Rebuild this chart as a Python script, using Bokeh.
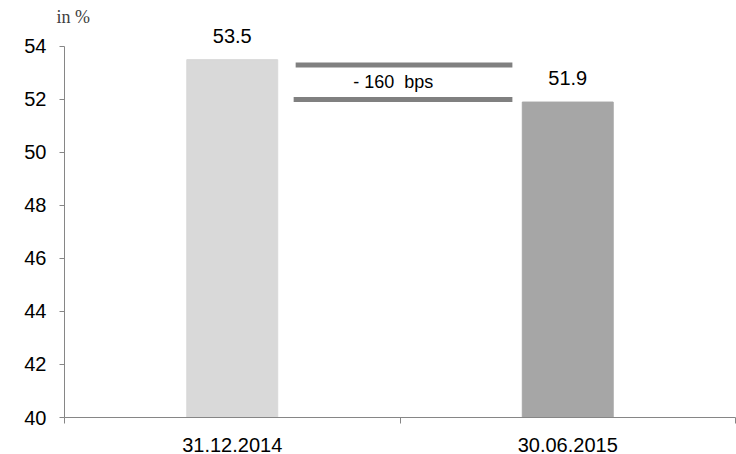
from bokeh.plotting import figure
from bokeh.models import Range1d, FixedTicker, ColumnDataSource
from bokeh.core.properties import value
from bokeh.embed import file_html
from bokeh.resources import INLINE

# ---- data ----
categories = ["31.12.2014", "30.06.2015"]
ratios = [53.5, 51.9]
bar_colors = ["#d9d9d9", "#a6a6a6"]
y_ticks = [40, 42, 44, 46, 48, 50, 52, 54]
bracket_levels = [53.3, 52.0]
change_text = "- 160\u00a0 bps"
unit_text = "in %"

x_pos = [i + 0.5 for i in range(len(categories))]
src = ColumnDataSource(dict(
    x=x_pos, top=ratios, color=bar_colors,
    label=[f"{v:.1f}" for v in ratios],
))

p = figure(width=736, height=454, output_backend="svg", toolbar_location=None,
           x_range=Range1d(0, len(categories)), y_range=Range1d(40, 54.75),
           min_border_left=64, min_border_right=1, min_border_top=26,
           min_border_bottom=35, title=unit_text)
p.outline_line_color = None
p.xgrid.visible = False
p.ygrid.visible = False
p.background_fill_color = "white"
p.border_fill_color = "white"

p.title.align = "left"
p.title.offset = -8
p.title.standoff = 0
p.title.text_font = "Liberation Serif"
p.title.text_font_size = "18px"
p.title.text_font_style = "normal"
p.title.text_color = "#404040"

FONT = "Liberation Sans"
AXIS_COLOR = "#868686"

p.vbar(x="x", top="top", bottom=40, width=0.271, color="color", source=src)
p.text(x="x", y="top", text="label", source=src, text_align="center",
       text_baseline="alphabetic", y_offset=-24, text_font=value(FONT),
       text_font_size="20px", text_color="#000000")

# bracket showing the change
p.segment(x0=[0.689, 0.683], x1=[1.335, 1.335], y0=bracket_levels,
          y1=bracket_levels, line_width=5, line_color="#808080", line_cap="butt")
p.text(x=[0.98], y=[sum(bracket_levels) / 2], text=[change_text],
       text_align="center", text_baseline="middle", text_font=value(FONT),
       text_font_size="18px", text_color="#000000")

# y axis
ya = p.yaxis[0]
ya.bounds = (40, 54)
ya.ticker = FixedTicker(ticks=y_ticks, minor_ticks=[])
ya.axis_line_color = AXIS_COLOR
ya.major_tick_line_color = AXIS_COLOR
ya.major_tick_in = 0
ya.major_tick_out = 5
ya.minor_tick_line_color = None
ya.major_label_standoff = 13
ya.major_label_text_font = FONT
ya.major_label_text_font_size = "20px"
ya.major_label_text_color = "#000000"

# x axis
xa = p.xaxis[0]
xa.ticker = FixedTicker(ticks=x_pos, minor_ticks=list(range(len(categories) + 1)))
xa.major_label_overrides = {x: c for x, c in zip(x_pos, categories)}
xa.axis_line_color = AXIS_COLOR
xa.major_tick_line_color = None
xa.major_tick_in = 0
xa.major_tick_out = 0
xa.minor_tick_line_color = AXIS_COLOR
xa.minor_tick_in = 0
xa.minor_tick_out = 6
xa.major_label_standoff = 14
xa.major_label_text_font = FONT
xa.major_label_text_font_size = "20px"
xa.major_label_text_color = "#000000"

open("out.html", "w").write(file_html(p, INLINE))
